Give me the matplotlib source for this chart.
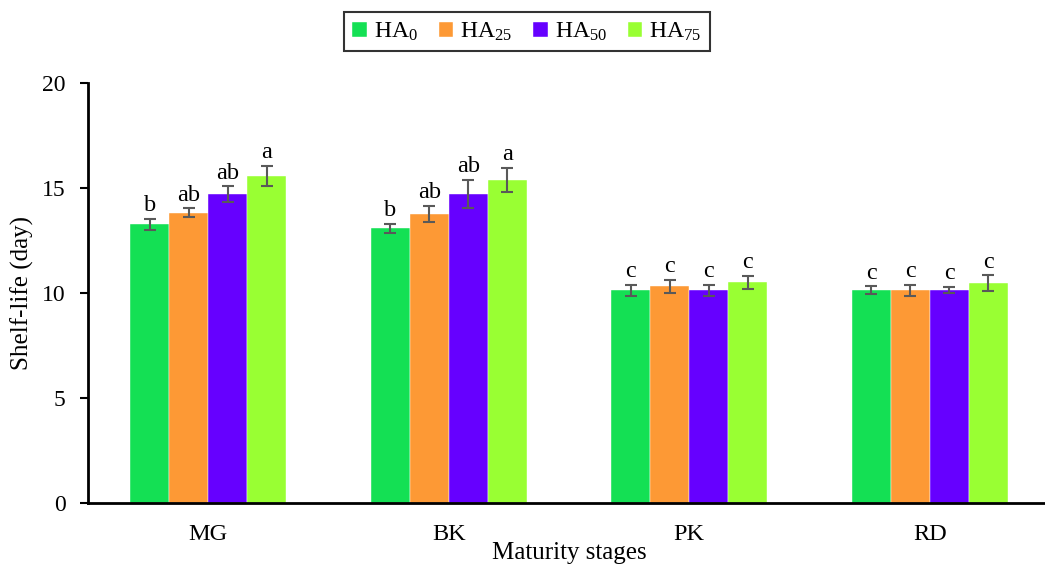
import matplotlib
matplotlib.use("Agg")
import matplotlib.pyplot as plt
import numpy as np

plt.rcParams['font.family'] = ['Liberation Serif', 'DejaVu Serif']
plt.rcParams['mathtext.fontset'] = 'custom'
plt.rcParams['mathtext.rm'] = 'Liberation Serif'
plt.rcParams['mathtext.it'] = 'Liberation Serif'

stages = ['MG', 'BK', 'PK', 'RD']
series = [r'HA$_{\mathrm{0}}$', r'HA$_{\mathrm{25}}$', r'HA$_{\mathrm{50}}$', r'HA$_{\mathrm{75}}$']

ha0 = [13.27, 13.08, 10.14, 10.13]
ha25 = [13.82, 13.76, 10.32, 10.13]
ha50 = [14.71, 14.70, 10.13, 10.14]
ha75 = [15.57, 15.38, 10.51, 10.46]

ha0_err = [0.27, 0.20, 0.26, 0.19]
ha25_err = [0.21, 0.39, 0.30, 0.27]
ha50_err = [0.37, 0.67, 0.25, 0.14]
ha75_err = [0.48, 0.56, 0.30, 0.38]

ha0_sig = ['b', 'b', 'c', 'c']
ha25_sig = ['ab', 'ab', 'c', 'c']
ha50_sig = ['ab', 'ab', 'c', 'c']
ha75_sig = ['a', 'a', 'c', 'c']

colors = ['#14E054', '#FD9935', '#6600FF', '#99FF33']

values = [ha0, ha25, ha50, ha75]
errors = [ha0_err, ha25_err, ha50_err, ha75_err]
sigs = [ha0_sig, ha25_sig, ha50_sig, ha75_sig]

fig = plt.figure(figsize=(10.45, 5.66), dpi=100)
ax = fig.add_axes([88 / 1045, 63 / 566, (1050 - 88) / 1045, 420 / 566])

x = np.arange(len(stages))
w = 0.162
for i in range(4):
    pos = x + (i - 1.5) * w
    ax.bar(pos, values[i], width=w, color=colors[i], label=series[i],
           edgecolor='white', linewidth=0.3)
    ax.errorbar(pos, values[i], yerr=errors[i], fmt='none', ecolor='#595959',
                elinewidth=1.5, capsize=4, capthick=1.5)
    for xp, v, e, s in zip(pos, values[i], errors[i], sigs[i]):
        ax.annotate(s, (xp, v + e), xytext=(0, 2), textcoords='offset points',
                    ha='center', va='bottom', fontsize=17.5)

ax.set_xlim(-0.5, 3.5)
ax.set_ylim(0, 20)
ax.set_yticks([0, 5, 10, 15, 20])
ax.set_xticks(x)
ax.set_xticklabels(stages)
ax.tick_params(axis='x', length=0, pad=15, labelsize=17.5)
ax.tick_params(axis='y', length=6, width=1.5, direction='out', labelsize=17, pad=10)
for side in ['top', 'right']:
    ax.spines[side].set_visible(False)
for side in ['left', 'bottom']:
    ax.spines[side].set_linewidth(2)
ax.set_xlabel('Maturity stages', fontsize=18, labelpad=-2)
ax.set_ylabel('Shelf-life (day)', fontsize=18, labelpad=6)

leg = fig.legend(loc='center', bbox_to_anchor=(527 / 1045, 1 - 31.5 / 566), ncol=4,
                 fontsize=17, frameon=True, fancybox=False, edgecolor='black',
                 handlelength=0.6, handleheight=0.6, handletextpad=0.3,
                 columnspacing=0.9, borderpad=0.35, borderaxespad=0)
leg.get_frame().set_linewidth(1.5)

fig.savefig('out.png', dpi=100)
